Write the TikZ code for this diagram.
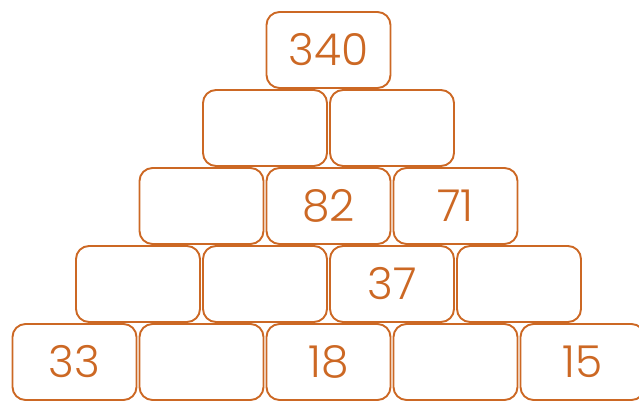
\documentclass[tikz,border=0pt]{standalone}
\usepackage{fontspec}
\setmainfont{Poppins Light}
\definecolor{brick}{RGB}{204,104,36}
\begin{document}
\begin{tikzpicture}[x=1pt,y=-1pt,
  stone/.style={draw=brick, line width=1.9pt, rounded corners=13pt,
    minimum width=124pt, minimum height=76pt, inner sep=0pt,
    text=brick, font=\fontsize{44}{44}\selectfont}]
\useasboundingbox (0,0) rectangle (639,405);
% row/column/number, row 1 on top
\foreach \r/\c/\t in {1/1/340, 2/1/, 2/2/, 3/1/, 3/2/82, 3/3/71,
    4/1/, 4/2/, 4/3/37, 4/4/, 5/1/33, 5/2/, 5/3/18, 5/4/, 5/5/15}
  \node[stone] (b\r\c) at ({74.5+(5-\r)*63.5+(\c-1)*127}, {50+(\r-1)*78}) {\t};
\end{tikzpicture}
\end{document}
